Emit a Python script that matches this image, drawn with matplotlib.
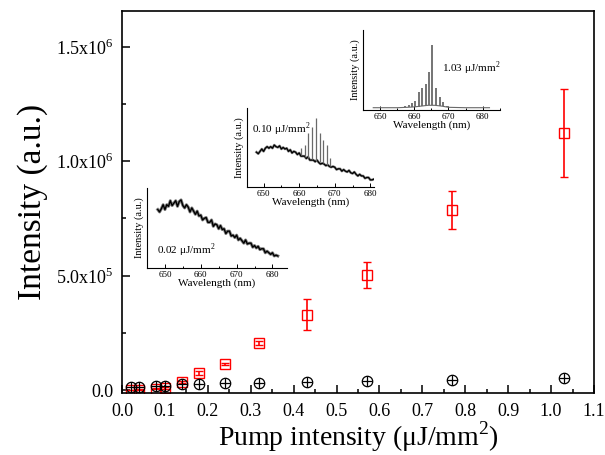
import numpy as np
import matplotlib
matplotlib.use('Agg')
import matplotlib.pyplot as plt
from matplotlib.ticker import MultipleLocator, FixedLocator, FixedFormatter

plt.rcParams['font.family'] = ['Liberation Serif', 'DejaVu Serif']
plt.rcParams['mathtext.fontset'] = 'custom'
plt.rcParams['mathtext.rm'] = 'Liberation Serif'

# main plot data
pump = [0.02, 0.04, 0.08, 0.10, 0.14, 0.18, 0.24, 0.32, 0.43, 0.57, 0.77, 1.03]
red_int = [1e3, 2e3, 5e3, 8e3, 3.5e4, 7.4e4, 1.14e5, 2.05e5, 3.28e5, 5.02e5, 7.86e5, 1.122e6]
red_err = [1e3, 1e3, 2e3, 3e3, 5e3, 8e3, 5e3, 1e4, 6.8e4, 5.5e4, 8.3e4, 1.94e5]
blk_int = [1.3e4, 1.3e4, 1.7e4, 1.7e4, 2.6e4, 2.6e4, 3.0e4, 3.1e4, 3.5e4, 3.9e4, 4.4e4, 5.2e4]

# spectrum at 0.02 uJ/mm2 (relative intensity, 0.5 nm steps from 648 nm)
wl = np.arange(648.0, 682.0, 0.5)
spec1 = [0.73, 0.70, 0.74, 0.79, 0.73, 0.79, 0.77, 0.84, 0.78, 0.81, 0.84, 0.77,
         0.83, 0.85, 0.78, 0.75, 0.79, 0.76, 0.70, 0.75, 0.71, 0.67, 0.71, 0.65,
         0.66, 0.60, 0.62, 0.63, 0.57, 0.57, 0.60, 0.52, 0.55, 0.54, 0.49, 0.53,
         0.48, 0.49, 0.43, 0.46, 0.46, 0.40, 0.41, 0.38, 0.41, 0.35, 0.37, 0.34,
         0.31, 0.35, 0.30, 0.31, 0.31, 0.26, 0.28, 0.25, 0.27, 0.23, 0.24, 0.24,
         0.19, 0.21, 0.19, 0.17, 0.19, 0.15, 0.16, 0.15]

# spectrum at 0.10 uJ/mm2: broad background + narrow lasing lines
spec2 = [0.44, 0.42, 0.45, 0.48, 0.45, 0.49, 0.51, 0.49, 0.51, 0.49, 0.53, 0.51,
         0.50, 0.52, 0.48, 0.50, 0.48, 0.49, 0.45, 0.47, 0.43, 0.45, 0.44, 0.41,
         0.43, 0.39, 0.39, 0.39, 0.36, 0.38, 0.34, 0.34, 0.34, 0.32, 0.34, 0.31,
         0.29, 0.30, 0.29, 0.27, 0.28, 0.26, 0.25, 0.26, 0.25, 0.22, 0.23, 0.23,
         0.20, 0.22, 0.20, 0.19, 0.21, 0.18, 0.17, 0.19, 0.16, 0.14, 0.16, 0.14,
         0.14, 0.11, 0.12, 0.12, 0.09, 0.09, 0.10, 0.08]
peak2_wl = [660.6, 661.7, 662.6, 663.7, 664.6, 665.8, 666.8, 667.7, 668.7]
peak2_base = [0.40, 0.38, 0.37, 0.35, 0.33, 0.31, 0.30, 0.28, 0.27]
peak2_top = [0.49, 0.53, 0.68, 0.76, 0.87, 0.68, 0.60, 0.53, 0.37]

# spectrum at 1.03 uJ/mm2
base3_wl = [648, 655, 658, 660, 662, 664, 666, 668, 670, 675, 682]
base3 = [0.03, 0.03, 0.035, 0.04, 0.05, 0.06, 0.06, 0.05, 0.035, 0.03, 0.03]
peak3_wl = [657.4, 658.4, 659.3, 660.3, 661.3, 662.3, 663.3, 664.3, 665.2, 666.4, 667.5, 668.5, 669.7]
peak3_base = [0.035, 0.035, 0.04, 0.04, 0.045, 0.05, 0.055, 0.06, 0.06, 0.06, 0.055, 0.05, 0.04]
peak3_top = [0.05, 0.07, 0.09, 0.12, 0.23, 0.28, 0.33, 0.47, 0.81, 0.28, 0.16, 0.10, 0.05]

fig = plt.figure(figsize=(6.05, 4.55), dpi=100)
ax = fig.add_axes([0.2017, 0.1363, 0.7801, 0.8395])

ax.errorbar(pump, red_int, yerr=red_err, fmt='s', color='red', mfc='none',
            ms=6.5, mew=1.0, elinewidth=1.2, capsize=3, capthick=1.2, zorder=2)
ax.plot(pump, blk_int, 'o', color='black', mfc='none', ms=7.5, mew=0.9, zorder=3)
ax.plot(pump, blk_int, '+', color='black', ms=7.5, mew=0.9, zorder=3)

ax.set_xlim(0.0, 1.1)
ax.set_ylim(-1.3e4, 1.655e6)
ax.xaxis.set_major_locator(MultipleLocator(0.1))
ax.xaxis.set_minor_locator(MultipleLocator(0.05))
ax.xaxis.set_major_formatter(plt.FormatStrFormatter('%.1f'))
ax.yaxis.set_major_locator(FixedLocator([0, 5e5, 1e6, 1.5e6]))
ax.yaxis.set_major_formatter(FixedFormatter(['0.0', r'5.0x10$^{\mathregular{5}}$',
                                             r'1.0x10$^{\mathregular{6}}$', r'1.5x10$^{\mathregular{6}}$']))
ax.yaxis.set_minor_locator(MultipleLocator(2.5e5))
ax.tick_params(which='both', direction='in', top=False, right=False, width=1.1, labelsize=13)
ax.tick_params(which='major', length=6)
ax.tick_params(which='minor', length=3)
ax.tick_params(axis='x', pad=7)
ax.tick_params(axis='y', pad=6)
for s in ax.spines.values():
    s.set_linewidth(1.2)
ax.set_xlabel(r'Pump intensity ($\mathregular{\mu}$J/mm$^{\mathregular{2}}$)', fontsize=20, labelpad=0)
ax.set_ylabel('Intensity (a.u.)', fontsize=24, labelpad=6)


def inset(rect, xlim):
    a = fig.add_axes(rect)
    a.set_xlim(*xlim)
    a.set_ylim(0, 1)
    a.spines['top'].set_visible(False)
    a.spines['right'].set_visible(False)
    for s in ('left', 'bottom'):
        a.spines[s].set_linewidth(0.8)
    a.set_yticks([])
    a.xaxis.set_major_locator(MultipleLocator(10))
    a.xaxis.set_minor_locator(MultipleLocator(5))
    a.tick_params(which='both', direction='in', labelsize=6.5, pad=2, width=0.7)
    a.tick_params(which='major', length=3)
    a.tick_params(which='minor', length=1.5)
    a.set_xlabel('Wavelength (nm)', fontsize=8, labelpad=0)
    a.set_ylabel('Intensity (a.u.)', fontsize=7.5, labelpad=2)
    a.patch.set_alpha(0)
    return a


a1 = inset([0.243, 0.411, 0.231, 0.176], (645, 684))
a1.plot(wl, spec1, color='gray', lw=2.2)
a1.plot(wl, spec1, color='black', lw=1.0)
a1.text(0.07, 0.22, r'0.02 $\mathregular{\mu}$J/mm$^{\mathregular{2}}$', transform=a1.transAxes,
        fontsize=8, va='center')

a2 = inset([0.408, 0.589, 0.21, 0.174], (645.3, 681))
a2.plot(wl, spec2, color='gray', lw=1.8)
a2.plot(wl, spec2, color='black', lw=0.9)
a2.vlines(peak2_wl, peak2_base, peak2_top, color='dimgray', lw=0.9)
a2.text(0.04, 0.73, r'0.10 $\mathregular{\mu}$J/mm$^{\mathregular{2}}$', transform=a2.transAxes,
        fontsize=8, va='center')

a3 = inset([0.6, 0.758, 0.226, 0.176], (645, 685))
a3.plot(base3_wl, base3, color='dimgray', lw=0.8)
a3.vlines(peak3_wl, peak3_base, peak3_top, color='dimgray', lw=1.3)
a3.text(0.58, 0.52, r'1.03 $\mathregular{\mu}$J/mm$^{\mathregular{2}}$', transform=a3.transAxes,
        fontsize=8, va='center')

fig.savefig('out.png', dpi=100)
